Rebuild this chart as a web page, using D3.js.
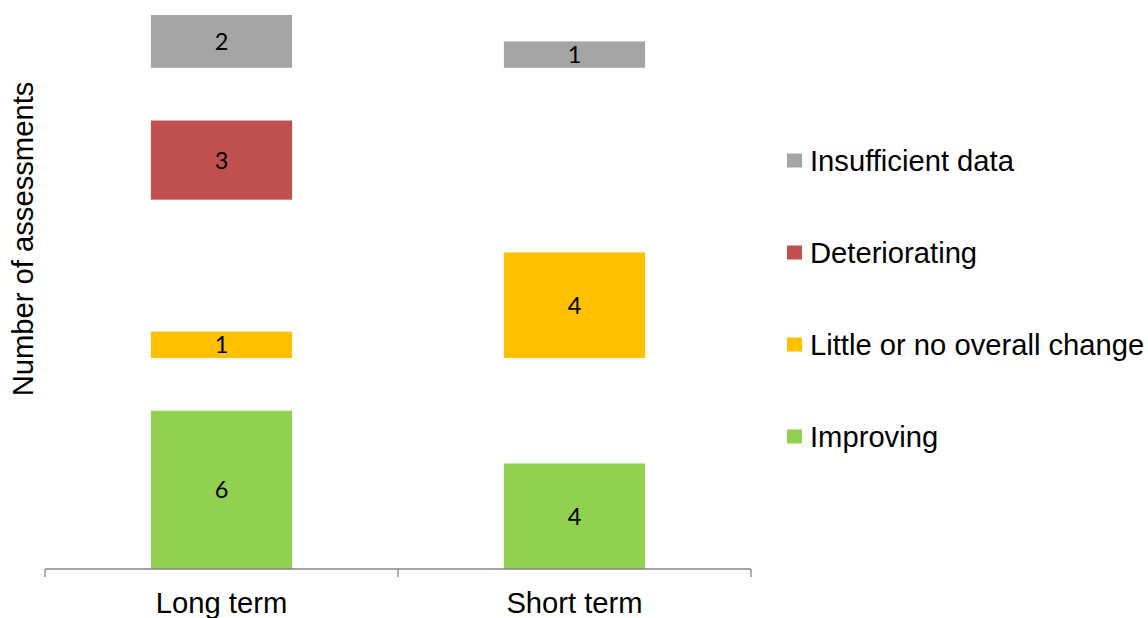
<!DOCTYPE html>
<html>
<head>
<meta charset="utf-8">
<script src="https://cdn.jsdelivr.net/npm/d3@7"></script>
<style>
  html, body { margin: 0; padding: 0; background: #fff; }
  svg { display: block; }
</style>
</head>
<body>
<svg id="chart" width="1148" height="618"></svg>
<script>
// Assessment counts per period
const categories = ["Long term", "Short term"];
const improving = [6, 4];
const littleChange = [1, 4];
const deteriorating = [3, 0];
const insufficient = [2, 1];
// Invisible spacer segments that lift each outcome into its own band
const gapA = [2, 4];
const gapB = [5, 2];
const gapC = [2, 5];

const seriesKeys = ["improving", "gapA", "little", "gapB", "deteriorating", "gapC", "insufficient"];
const seriesColor = {
  improving: "#92D050",
  little: "#FFC000",
  deteriorating: "#C0504D",
  insufficient: "#A5A5A5"
};
const legendItems = [
  { key: "insufficient", label: "Insufficient data" },
  { key: "deteriorating", label: "Deteriorating" },
  { key: "little", label: "Little or no overall change" },
  { key: "improving", label: "Improving" }
];

const rows = categories.map((c, i) => ({
  category: c,
  improving: improving[i],
  gapA: gapA[i],
  little: littleChange[i],
  gapB: gapB[i],
  deteriorating: deteriorating[i],
  gapC: gapC[i],
  insufficient: insufficient[i]
}));

const svg = d3.select("#chart");
const axisFont = "'Liberation Sans', Arial, sans-serif";
const axisSize = "29.2px";

const x = d3.scaleBand()
  .domain(categories)
  .range([45, 751])
  .paddingInner(0.6)
  .paddingOuter(0.3);

const maxTotal = d3.max(rows, r => d3.sum(seriesKeys, k => r[k]));
const y = d3.scaleLinear()
  .domain([0, maxTotal])
  .range([569, 15]);

const stacked = d3.stack().keys(seriesKeys)(rows);

const layers = svg.append("g")
  .selectAll("g")
  .data(stacked.filter(s => seriesColor[s.key]))
  .join("g")
  .attr("fill", s => seriesColor[s.key]);

layers.selectAll("rect")
  .data(s => s.filter(d => d[1] - d[0] > 0))
  .join("rect")
  .attr("x", d => x(d.data.category))
  .attr("width", x.bandwidth())
  .attr("y", d => y(d[1]))
  .attr("height", d => y(d[0]) - y(d[1]));

layers.selectAll("text")
  .data(s => s.filter(d => d[1] - d[0] > 0))
  .join("text")
  .attr("x", d => x(d.data.category) + x.bandwidth() / 2)
  .attr("y", d => (y(d[0]) + y(d[1])) / 2)
  .attr("dy", "0.36em")
  .attr("text-anchor", "middle")
  .attr("fill", "#000")
  .style("font-family", "Lato, 'Open Sans', sans-serif")
  .style("font-size", "23.5px")
  .text(d => d[1] - d[0]);

// Category axis with boundary ticks between categories
const axisG = svg.append("g");
const edges = [x.range()[0]].concat(categories.map(c => x(c) + x.bandwidth() / 2 + x.step() / 2));
axisG.append("line")
  .attr("x1", x.range()[0]).attr("x2", x.range()[1])
  .attr("y1", y(0)).attr("y2", y(0))
  .attr("stroke", "#868686").attr("stroke-width", 1.3);
axisG.selectAll("line.tick")
  .data(edges)
  .join("line")
  .attr("class", "tick")
  .attr("x1", d => d).attr("x2", d => d)
  .attr("y1", y(0)).attr("y2", y(0) + 8)
  .attr("stroke", "#868686").attr("stroke-width", 1.3);
axisG.selectAll("text")
  .data(categories)
  .join("text")
  .attr("x", d => x(d) + x.bandwidth() / 2)
  .attr("y", 613)
  .attr("text-anchor", "middle")
  .style("font-family", axisFont)
  .style("font-size", axisSize)
  .attr("fill", "#000")
  .text(d => d);

// Value axis title
svg.append("text")
  .attr("transform", "translate(33,239) rotate(-90)")
  .attr("text-anchor", "middle")
  .style("font-family", axisFont)
  .style("font-size", axisSize)
  .attr("fill", "#000")
  .text("Number of assessments");

// Legend
const legend = svg.append("g")
  .selectAll("g")
  .data(legendItems)
  .join("g")
  .attr("transform", (d, i) => `translate(787,${160.5 + i * 92})`);
legend.append("rect")
  .attr("x", 0).attr("y", -7)
  .attr("width", 15).attr("height", 14)
  .attr("fill", d => seriesColor[d.key]);
legend.append("text")
  .attr("x", 23)
  .attr("dy", "0.35em")
  .style("font-family", axisFont)
  .style("font-size", axisSize)
  .attr("fill", "#000")
  .text(d => d.label);
</script>
</body>
</html>
